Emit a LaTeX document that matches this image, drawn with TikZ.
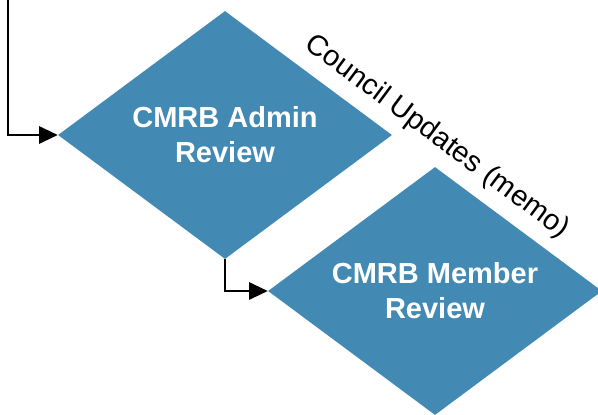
\documentclass[tikz,border=0pt]{standalone}
\usepackage{fontspec}
\setmainfont{Liberation Sans}
\usetikzlibrary{shapes.geometric,arrows.meta}
\definecolor{boxblue}{RGB}{66,138,180}
\tikzset{
  stepdiamond/.style={diamond, fill=boxblue, draw=none, inner sep=0pt,
    minimum width=250.5pt, minimum height=186pt, shape aspect=1.347,
    text=white, align=center, font=\bfseries\fontsize{21.75}{26.25}\selectfont},
  flow/.style={draw=black, line width=1.5pt, -{Triangle[length=14pt,width=13pt]}},
  lbl/.style={font=\fontsize{21.75}{26}\selectfont, text=black, inner sep=0pt}
}
\begin{document}
\begin{tikzpicture}[x=0.75pt,y=-0.75pt]
\useasboundingbox (0,0) rectangle (598,414);
\clip (0,0) rectangle (598,414);
\node[stepdiamond] (d1) at (225,135) {CMRB Admin\\Review};
\node[stepdiamond] (d2) at (435,291) {CMRB Member\\Review};
\coordinate (s1) at (8,-5);
\draw[flow] (s1) |- (d1.west);
\draw[flow] (d1.south) |- (d2.west);
\node[lbl, rotate=-36.6] (note) at (437,137) {Council Updates (memo)};
\end{tikzpicture}
\end{document}
